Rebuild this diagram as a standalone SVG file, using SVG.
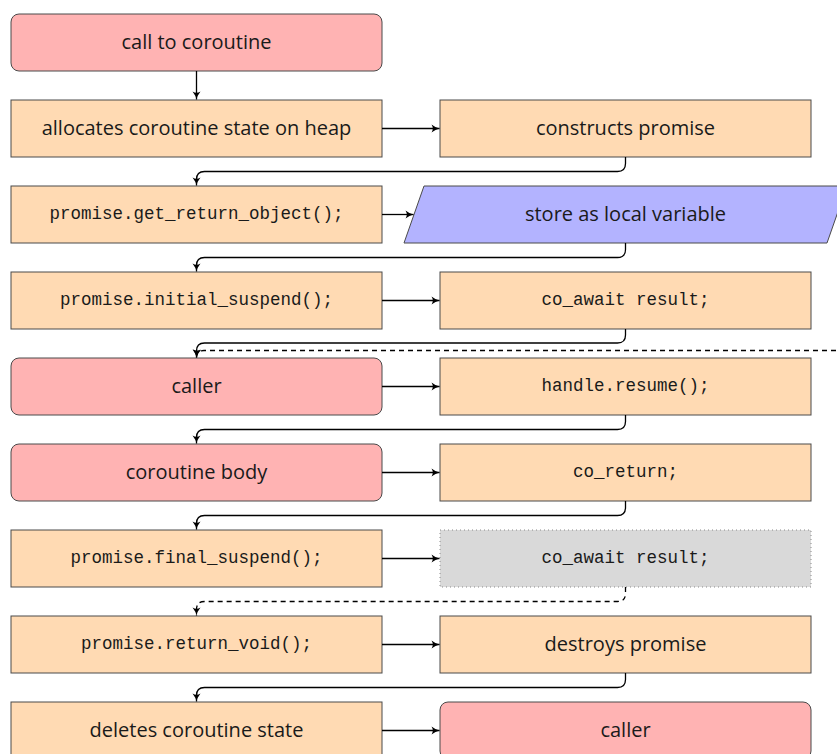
<svg xmlns="http://www.w3.org/2000/svg" width="837" height="754" viewBox="0 0 837 754">
<defs>
<marker id="ah" markerWidth="12" markerHeight="12" refX="9" refY="6" orient="auto" markerUnits="userSpaceOnUse">
<path d="M1,2 Q5,5.2 9,6 Q5,6.8 1,10 Q3.5,6 1,2 Z" fill="#000"/>
</marker>
<style>
.box{stroke:#4a4a4a;stroke-width:1}
.or{fill:#ffdab3}
.rd{fill:#ffb3b3}
.bl{fill:#b3b3ff}
.gy{fill:#d9d9d9;stroke:#8a8a8a;stroke-width:1;stroke-dasharray:1 3}
.s{font-family:"Open Sans","Noto Sans",sans-serif;font-size:20px;fill:#1a1a1a;text-anchor:middle;dominant-baseline:central}
.m{font-family:"Liberation Mono",monospace;font-size:17.5px;fill:#1a1a1a;text-anchor:middle;dominant-baseline:central}
.c{fill:none;stroke:#000;stroke-width:1.3;marker-end:url(#ah)}
.d{stroke-dasharray:5 4}
</style>
</defs>
<g id="n1"><rect class="box rd" x="11" y="14" width="371" height="57" rx="8"/><text class="s" x="196.5" y="41">call to coroutine</text></g>
<g id="n2"><rect class="box or" x="11" y="100" width="371" height="57"/><text class="s" x="196.5" y="127">allocates coroutine state on heap</text></g>
<g id="n3"><rect class="box or" x="440" y="100" width="371" height="57"/><text class="s" x="625.5" y="127">constructs promise</text></g>
<g id="n4"><rect class="box or" x="11" y="186" width="371" height="57"/><text class="m" x="196.5" y="214">promise.get_return_object();</text></g>
<g id="n5"><polygon class="box bl" points="424,186 847,186 827,243 404,243"/><text class="s" x="625.5" y="213">store as local variable</text></g>
<g id="n6"><rect class="box or" x="11" y="272" width="371" height="57"/><text class="m" x="196.5" y="300">promise.initial_suspend();</text></g>
<g id="n7"><rect class="box or" x="440" y="272" width="371" height="57"/><text class="m" x="625.5" y="300">co_await result;</text></g>
<g id="n8"><rect class="box rd" x="11" y="358" width="371" height="57" rx="8"/><text class="s" x="196.5" y="385">caller</text></g>
<g id="n9"><rect class="box or" x="440" y="358" width="371" height="57"/><text class="m" x="625.5" y="386">handle.resume();</text></g>
<g id="n10"><rect class="box rd" x="11" y="444" width="371" height="57" rx="8"/><text class="s" x="196.5" y="471">coroutine body</text></g>
<g id="n11"><rect class="box or" x="440" y="444" width="371" height="57"/><text class="m" x="625.5" y="472">co_return;</text></g>
<g id="n12"><rect class="box or" x="11" y="530" width="371" height="57"/><text class="m" x="196.5" y="558">promise.final_suspend();</text></g>
<g id="n13"><rect class="gy" x="440" y="530" width="371" height="57"/><text class="m" x="625.5" y="558">co_await result;</text></g>
<g id="n14"><rect class="box or" x="11" y="616" width="371" height="57"/><text class="m" x="196.5" y="644">promise.return_void();</text></g>
<g id="n15"><rect class="box or" x="440" y="616" width="371" height="57"/><text class="s" x="625.5" y="643">destroys promise</text></g>
<g id="n16"><rect class="box or" x="11" y="702" width="371" height="57"/><text class="s" x="196.5" y="729">deletes coroutine state</text></g>
<g id="n17"><rect class="box rd" x="440" y="702" width="371" height="57" rx="8"/><text class="s" x="625.5" y="729">caller</text></g>
<g id="connectors">
<path class="c" d="M196.5,71 V99.5"/>
<path class="c" d="M382,128.5 H439.5"/>
<path class="c" d="M625.5,157 V163.5 Q625.5,171.5 617.5,171.5 H204.5 Q196.5,171.5 196.5,179.5 V185.5"/>
<path class="c" d="M382,214.5 H413.5"/>
<path class="c" d="M625.5,243 V249.5 Q625.5,257.5 617.5,257.5 H204.5 Q196.5,257.5 196.5,265.5 V271.5"/>
<path class="c" d="M382,300.5 H439.5"/>
<path class="c" d="M625.5,329 V335 Q625.5,343 617.5,343 H204.5 Q196.5,343 196.5,351 V357.5"/>
<path class="c d" d="M845,350.5 H204 Q197,350.5 196.5,357.5"/>
<path class="c" d="M382,386.5 H439.5"/>
<path class="c" d="M625.5,415 V421.5 Q625.5,429.5 617.5,429.5 H204.5 Q196.5,429.5 196.5,437.5 V443.5"/>
<path class="c" d="M382,472.5 H439.5"/>
<path class="c" d="M625.5,501 V507.5 Q625.5,515.5 617.5,515.5 H204.5 Q196.5,515.5 196.5,523.5 V529.5"/>
<path class="c" d="M382,558.5 H439.5"/>
<path class="c d" d="M625.5,587 V593.5 Q625.5,601.5 617.5,601.5 H204.5 Q196.5,601.5 196.5,609.5 V615.5"/>
<path class="c" d="M382,644.5 H439.5"/>
<path class="c" d="M625.5,673 V679.5 Q625.5,687.5 617.5,687.5 H204.5 Q196.5,687.5 196.5,695.5 V701.5"/>
<path class="c" d="M382,730.5 H439.5"/>
</g>
</svg>
